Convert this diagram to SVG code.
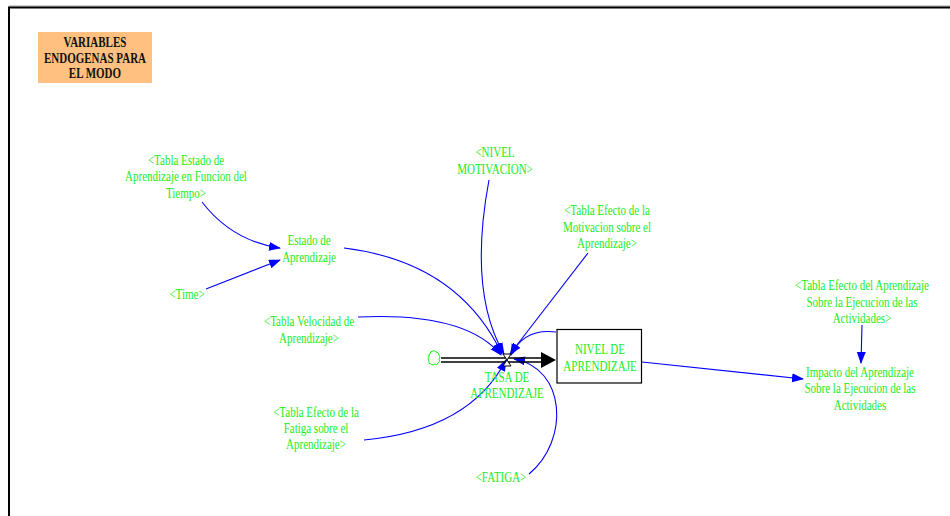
<svg xmlns="http://www.w3.org/2000/svg" width="950" height="516" viewBox="0 0 950 516">
  <style>
    text { font-family: 'Liberation Serif', 'Times New Roman', 'DejaVu Serif', serif; font-size: 11px; text-anchor: middle;
           transform-box: fill-box; transform-origin: center; transform: scaleY(1.25); }
    .lbl { fill: #1aeb1a; }
    .ttl { font-weight: bold; fill: #111; transform: scaleY(1.3); }
    .lnk { fill: none; stroke: #0000ff; stroke-width: 1.1; marker-end: url(#ah); }
    .pipe { stroke: #000; stroke-width: 1.4; }
  </style>
  <defs>
    <marker id="ah" markerUnits="userSpaceOnUse" markerWidth="12" markerHeight="10" refX="11" refY="4.5" orient="auto">
      <path d="M0,0 L12,4.5 L0,9 z" fill="#0000ff"/>
    </marker>
  </defs>

  <rect x="0" y="0" width="950" height="516" fill="#fff"/>

  <!-- sheet border -->
  <line x1="9" y1="6" x2="950" y2="6" stroke="#9a9a9a" stroke-width="1"/>
  <path d="M9,516 V7.5 H950" fill="none" stroke="#000" stroke-width="2"/>

  <!-- title box -->
  <g id="title">
    <rect x="38" y="32" width="114" height="51" fill="#ffc080"/>
    <text class="ttl" x="95" y="46">VARIABLES</text>
    <text class="ttl" x="95" y="62">ENDOGENAS PARA</text>
    <text class="ttl" x="95" y="77">EL MODO</text>
  </g>

  <!-- links -->
  <g id="connectors">
    <path class="lnk" d="M202,202 Q232,241 280,248"/>
    <path class="lnk" d="M206,289 L280,260"/>
    <path class="lnk" d="M344,248 Q458,262 502,354"/>
    <path class="lnk" d="M358,317 Q466,312 501,355"/>
    <path class="lnk" d="M489,180 Q468,292 504,354"/>
    <path class="lnk" d="M588,253 L510,354"/>
    <path class="lnk" d="M556,332 Q524,328 511,355"/>
    <path class="lnk" d="M529,474 C570,440 566,368 514,359"/>
    <path class="lnk" d="M364,440 Q470,430 506,360"/>
    <path class="lnk" d="M642,362 L803,379"/>
    <path class="lnk" d="M862,325 L861,363"/>
  </g>

  <!-- flow pipe from source cloud to level -->
  <g id="flow">
    <path d="M430,354 q0,-3 3,-3 q2,-1 3,1 q3,0 3,3 q2,2 0,4 q2,3 -1,4 q-1,3 -3,1 q-2,2 -4,0 q-3,0 -2,-3 q-2,-2 0,-4 q-1,-3 1,-3 z" fill="#fff" stroke="#1aeb1a" stroke-width="1"/>
    <line class="pipe" x1="441" y1="358" x2="543" y2="358"/>
    <line class="pipe" x1="441" y1="362" x2="543" y2="362"/>
    <polygon points="541,352 556,360 541,368" fill="#000"/>
  </g>

  <g id="valve">
    <polygon points="503,354 511,354 507,360 511,366 503,366 507,360" fill="#fff" stroke="#000" stroke-width="1"/>
    <text class="lbl" x="507" y="381">TASA DE</text>
    <text class="lbl" x="507" y="397">APRENDIZAJE</text>
  </g>

  <g id="nivel-aprendizaje">
    <rect x="557" y="329.5" width="84.5" height="53.5" fill="#fff" stroke="#000" stroke-width="1.2"/>
    <text class="lbl" x="600" y="353">NIVEL DE</text>
    <text class="lbl" x="600" y="370">APRENDIZAJE</text>
  </g>

  <g id="tabla-estado">
    <text class="lbl" x="186" y="164">&lt;Tabla Estado de</text>
    <text class="lbl" x="186" y="180">Aprendizaje en Funcion del</text>
    <text class="lbl" x="186" y="197">Tiempo&gt;</text>
  </g>

  <g id="estado">
    <text class="lbl" x="309" y="244">Estado de</text>
    <text class="lbl" x="309" y="261">Aprendizaje</text>
  </g>

  <g id="time">
    <text class="lbl" x="187" y="298">&lt;Time&gt;</text>
  </g>

  <g id="tabla-velocidad">
    <text class="lbl" x="309" y="325">&lt;Tabla Velocidad de</text>
    <text class="lbl" x="309" y="342">Aprendizaje&gt;</text>
  </g>

  <g id="tabla-fatiga">
    <text class="lbl" x="316" y="416">&lt;Tabla Efecto de la</text>
    <text class="lbl" x="316" y="432">Fatiga sobre el</text>
    <text class="lbl" x="316" y="448">Aprendizaje&gt;</text>
  </g>

  <g id="nivel-motivacion">
    <text class="lbl" x="495" y="156">&lt;NIVEL</text>
    <text class="lbl" x="495" y="173">MOTIVACION&gt;</text>
  </g>

  <g id="tabla-motivacion">
    <text class="lbl" x="607" y="214">&lt;Tabla Efecto de la</text>
    <text class="lbl" x="607" y="231">Motivacion sobre el</text>
    <text class="lbl" x="607" y="247">Aprendizaje&gt;</text>
  </g>

  <g id="fatiga">
    <text class="lbl" x="501" y="481">&lt;FATIGA&gt;</text>
  </g>

  <g id="tabla-ejecucion">
    <text class="lbl" x="862" y="289">&lt;Tabla Efecto del Aprendizaje</text>
    <text class="lbl" x="862" y="306">Sobre la Ejecucion de las</text>
    <text class="lbl" x="862" y="322">Actividades&gt;</text>
  </g>

  <g id="impacto">
    <text class="lbl" x="860" y="376">Impacto del Aprendizaje</text>
    <text class="lbl" x="860" y="392">Sobre la Ejecucion de las</text>
    <text class="lbl" x="860" y="409">Actividades</text>
  </g>
</svg>
